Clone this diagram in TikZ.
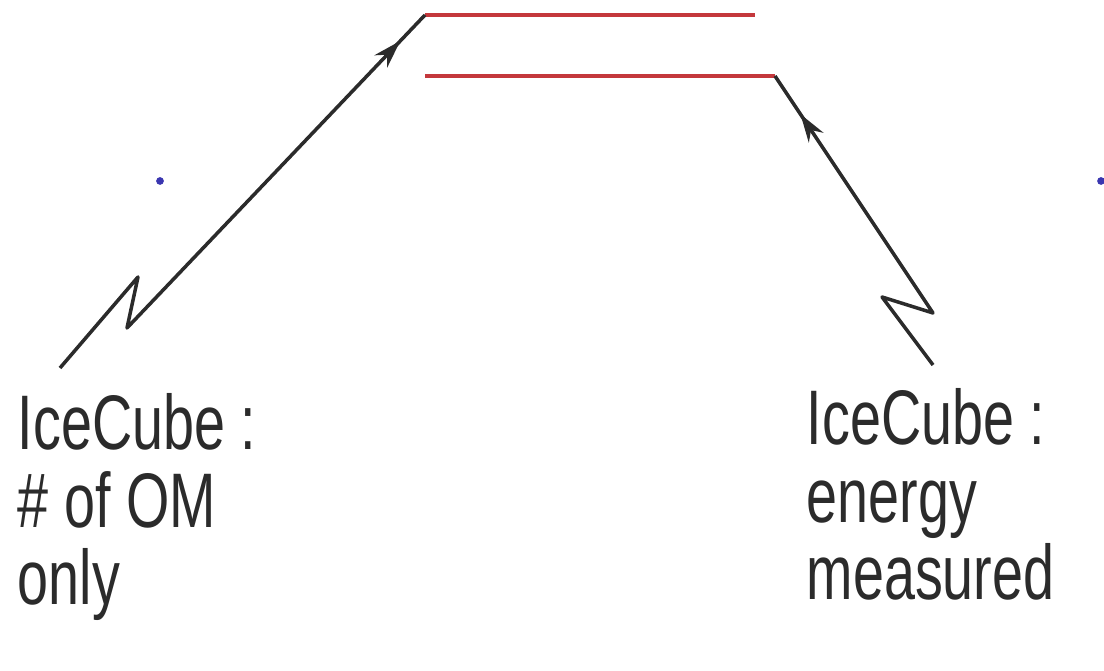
\documentclass[tikz,border=0pt]{standalone}
\usepackage{fontspec}
\usepackage{xcolor}
\usetikzlibrary{arrows.meta, decorations.markings}
\newfontfamily\handfont[FakeStretch=0.72]{Liberation Sans}
\definecolor{LevelRed}{HTML}{C4383C}
\definecolor{InkBlack}{HTML}{2B2B2B}
\definecolor{DotBlue}{HTML}{3A36B0}
\tikzset{
    % Horizontal levels
    level/.style={
        draw=LevelRed,
        line width=1.1pt
    },
    % Zigzag signal arrows
    signal/.style={
        draw=InkBlack,
        line width=1pt,
        line join=round,
        postaction={decorate},
        decoration={markings,
            mark=at position #1 with {\arrow{Stealth[length=8pt,width=5pt]}}}
    },
    % Handwritten labels
    label/.style={
        anchor=north west,
        inner sep=0pt,
        align=left,
        text=InkBlack,
        font=\handfont\fontsize{22}{22}\selectfont
    },
    marker/.style={
        circle,
        fill=DotBlue,
        inner sep=0pt,
        minimum size=2.2pt
    }
}
\begin{document}
\begin{tikzpicture}[x=0.01cm, y=-0.01cm]
    \useasboundingbox (0,0) rectangle (1104,671);

    % Levels
    \coordinate (upL) at (425,15);
    \coordinate (upR) at (755,15);
    \coordinate (loL) at (425,76);
    \coordinate (loR) at (775,76);
    \draw[level] (upL) -- (upR);
    \draw[level] (loL) -- (loR);

    % Markers
    \node[marker] (dotL) at (160,181) {};
    \node[marker] (dotR) at (1101,181) {};

    % Labels
    \node[label] (icL) at (17,393) {IceCube :\\\# of OM\\only};
    \node[label] (icR) at (806,388) {IceCube :\\energy\\measured};

    % Arrows
    \coordinate (startL) at (60,368);
    \coordinate (startR) at (933,365);
    \draw[signal=-10pt] (startL) -- ++(78,-91) -- ++(-11,51) -- (upL);
    \draw[signal=-13pt] (startR) -- ++(-51,-68) -- ++(51,16) -- (loR);
\end{tikzpicture}
\end{document}
